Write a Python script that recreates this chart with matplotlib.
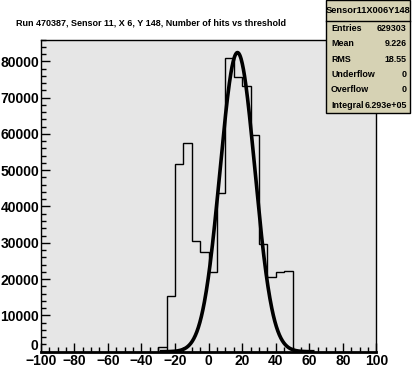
import numpy as np
import matplotlib
matplotlib.use("Agg")
import matplotlib.pyplot as plt
from matplotlib.patches import Rectangle
from matplotlib.ticker import MultipleLocator, FuncFormatter

plt.rcParams['font.family'] = ['Liberation Sans', 'DejaVu Sans']
plt.rcParams['font.weight'] = 'bold'

# histogram: bin edges and counts
bin_edges = np.arange(-30, 56, 5)
counts = [1400, 15300, 51600, 57400, 30400, 27400, 21900, 43600,
          80800, 75600, 73100, 59600, 29600, 20500, 21900, 22100, 300]

# gaussian fit
fit_const = 82400
fit_mean = 17.2
fit_sigma = 10.4
fit_range = (-28, 62)

stats_title = "Sensor11X006Y148"
stats_names = ["Entries", "Mean", "RMS", "Underflow", "Overflow", "Integral"]
stats_values = ["629303", "9.226", "18.55", "0", "0", "6.293e+05"]

title = "Run 470387, Sensor 11, X 6, Y 148, Number of hits vs threshold"

fig = plt.figure(figsize=(4.18, 3.90), dpi=100)
ax = fig.add_axes([0.0974, 0.0982, 0.8033, 0.8005])
ax.set_facecolor('#e6e6e6')

ax.stairs(counts, bin_edges, color='black', linewidth=1.0)

xf = np.linspace(fit_range[0], fit_range[1], 400)
yf = fit_const * np.exp(-0.5 * ((xf - fit_mean) / fit_sigma) ** 2)
ax.plot(xf, yf, color='black', linewidth=2.6)

ax.set_xlim(-100, 100)
ax.set_ylim(0, 86000)
ax.xaxis.set_major_locator(MultipleLocator(20))
ax.xaxis.set_minor_locator(MultipleLocator(5))
ax.yaxis.set_major_locator(MultipleLocator(10000))
ax.yaxis.set_minor_locator(MultipleLocator(2000))
# the "0" is drawn separately, a little higher, like ROOT does
ax.yaxis.set_major_formatter(FuncFormatter(lambda v, p: "" if v == 0 else "%d" % v))
ax.annotate("0", xy=(0, 0), xycoords='axes fraction', xytext=(-1.5, 4),
            textcoords='offset points', ha='right', va='center',
            fontsize=10, fontweight='bold')
ax.tick_params(which='both', direction='in', top=False, right=False,
               labelsize=10, width=1.0)
ax.tick_params(which='major', length=6.5)
ax.tick_params(which='minor', length=3.5)
ax.tick_params(axis='x', pad=1.5)
ax.tick_params(axis='y', pad=1)
for s in ax.spines.values():
    s.set_linewidth(1.0)
ax.spines['bottom'].set_linewidth(2.0)

fig.text(0.038, 0.942, title, fontsize=6.45, fontweight='bold',
         ha='left', va='center')

# stats box
bx0, bx1, by0, by1 = 0.780, 0.981, 0.710, 0.999
fig.patches.append(Rectangle((bx0 + 0.0025, by0 - 0.0025), bx1 - bx0, by1 - by0,
                             transform=fig.transFigure, facecolor='black',
                             edgecolor='none', zorder=5))
fig.patches.append(Rectangle((bx0, by0), bx1 - bx0, by1 - by0,
                             transform=fig.transFigure, facecolor='#d6d2b4',
                             edgecolor='black', linewidth=1.0, zorder=6))
sep_y = 0.947
fig.add_artist(plt.Line2D([bx0, bx1], [sep_y, sep_y], transform=fig.transFigure,
                          color='black', linewidth=1.0, zorder=7))
fig.text((bx0 + bx1) / 2, (sep_y + by1) / 2, stats_title, fontsize=6.7,
         fontweight='bold', ha='center', va='center', zorder=8)
row_h = (sep_y - by0) / len(stats_names)
for i, (n, v) in enumerate(zip(stats_names, stats_values)):
    yy = sep_y - row_h * (i + 0.5)
    fig.text(bx0 + 0.012, yy, n, fontsize=6.4, fontweight='bold',
             ha='left', va='center', zorder=8)
    fig.text(bx1 - 0.008, yy, v, fontsize=6.4, fontweight='bold',
             ha='right', va='center', zorder=8)

fig.savefig("out.png", dpi=100)
